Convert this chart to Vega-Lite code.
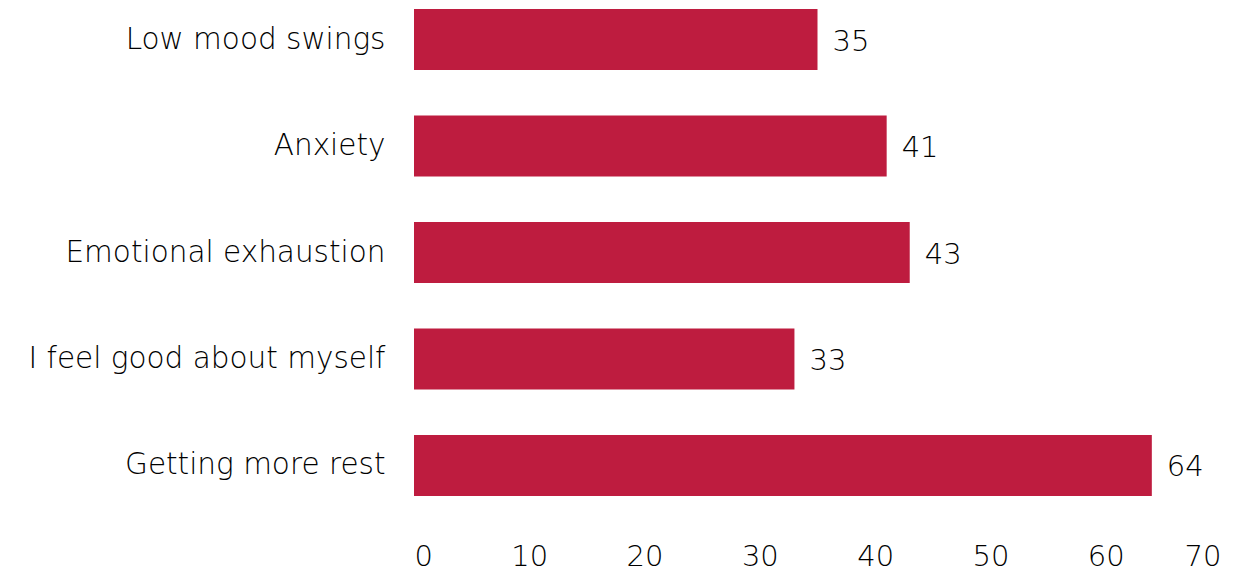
{
  "$schema": "https://vega.github.io/schema/vega-lite/v6.json",
  "width": 807,
  "height": 505,
  "autosize": {"type": "none"},
  "padding": {"left": 414, "top": 0, "right": 28, "bottom": 67},
  "background": "white",
  "config": {"view": {"stroke": null}, "font": "DejaVu Sans"},
  "data": {"values": [
    {"category": "Low mood swings", "value": 35},
    {"category": "Anxiety", "value": 41},
    {"category": "Emotional exhaustion", "value": 43},
    {"category": "I feel good about myself", "value": 33},
    {"category": "Getting more rest", "value": 64}
  ]},
  "encoding": {
    "y": {"field": "category", "type": "nominal", "sort": null,
      "scale": {"paddingInner": 0.427, "paddingOuter": 0.0845},
      "axis": {"title": null, "domain": false, "ticks": false, "labelPadding": 29, "labelFontSize": 29.5, "labelFontWeight": 300, "labelColor": "#000000", "labelLimit": 500, "labelFont": "DejaVu Sans"}},
    "x": {"field": "value", "type": "quantitative",
      "scale": {"domain": [0, 70], "nice": false},
      "axis": {"title": null, "domain": false, "ticks": false, "grid": false, "values": [0,10,20,30,40,50,60,70], "labelPadding": 37, "labelFontSize": 29, "labelFontWeight": 300, "labelColor": "#000000", "labelFont": "DejaVu Sans"}}
  },
  "layer": [
    {"mark": {"type": "bar", "color": "#BE1C3F"}},
    {"mark": {"type": "text", "align": "left", "dx": 15, "dy": 2, "fontSize": 29, "fontWeight": 300, "color": "#000000", "font": "DejaVu Sans"},
     "encoding": {"text": {"field": "value", "type": "quantitative"}}}
  ]
}
